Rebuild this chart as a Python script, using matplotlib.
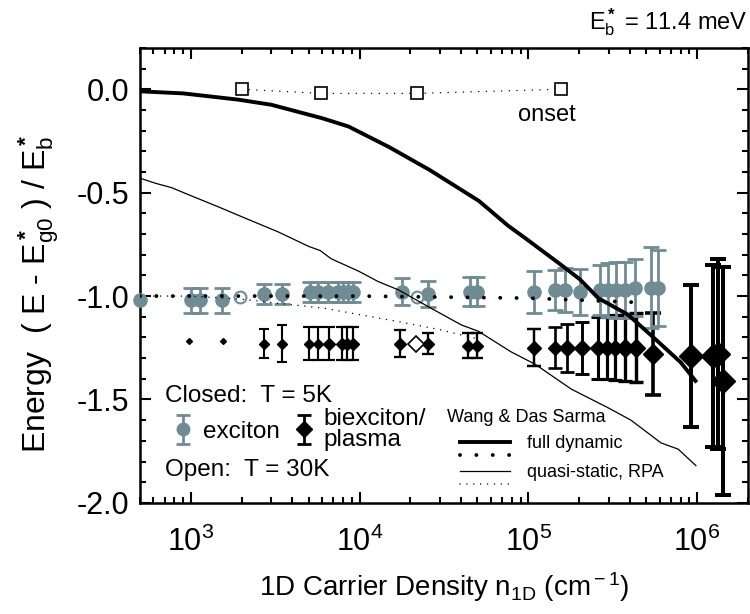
import numpy as np
import matplotlib
matplotlib.use('Agg')
import matplotlib.pyplot as plt
from matplotlib.lines import Line2D
from matplotlib.legend_handler import HandlerBase, HandlerErrorbar
from matplotlib.ticker import MultipleLocator, FormatStrFormatter

plt.rcParams['font.family'] = ['Liberation Sans', 'DejaVu Sans']
plt.rcParams['mathtext.fontset'] = 'custom'
plt.rcParams['mathtext.rm'] = 'Liberation Sans'
plt.rcParams['mathtext.it'] = 'Liberation Sans:italic'
plt.rcParams['mathtext.bf'] = 'Liberation Sans:bold'
plt.rcParams['axes.unicode_minus'] = False

GRAY = '#6f8c95'

# onset of the continuum (open squares)
onset_n = [2000, 5900, 21800, 157000]
onset_e = [0.0, -0.02, -0.02, 0.0]

# Wang & Das Sarma theory, full dynamic: band gap and exciton
full_n = [500, 900, 1900, 3000, 6000, 8600, 15000, 26000, 51000, 76000, 96000,
          157000, 203000, 260000, 390000, 535000, 800000, 980000]
full_gap = [-0.01, -0.02, -0.05, -0.075, -0.14, -0.18, -0.28, -0.39, -0.54, -0.66,
            -0.72, -0.85, -0.92, -1.01, -1.09, -1.19, -1.32, -1.41]
full_exc_n = [500, 1000, 10000, 100000, 430000]
full_exc = [-1.0, -1.0, -1.0, -1.01, -1.03]

# quasi-static RPA: band gap and exciton
qs_n = [500, 620, 770, 970, 1470, 1920, 3300, 5000, 5850, 6800, 9900, 12900, 17000,
        26700, 40200, 50600, 79200, 110000, 180000, 297000, 406000, 612000, 773000, 986000]
qs_gap = [-0.43, -0.455, -0.476, -0.51, -0.57, -0.61, -0.69, -0.76, -0.78, -0.82, -0.88,
          -0.93, -0.97, -1.06, -1.14, -1.17, -1.27, -1.33, -1.45, -1.54, -1.60, -1.71,
          -1.74, -1.82]
qs_exc_n = [500, 1000, 2000, 6300, 18700, 29000, 52000]
qs_exc = [-1.0, -1.0, -1.015, -1.06, -1.13, -1.16, -1.21]

# exciton, T = 5K (closed) and T = 30K (open)
exc_n = [500, 1000, 1140, 1530, 2700, 3470, 5100, 5700, 6500, 7500, 8000, 8600, 9200,
         17800, 25600, 45200, 49400, 108600, 144000, 165000, 202000, 265000, 297000,
         333000, 374000, 428000, 537000, 588000]
exc_e = [-1.02, -1.02, -1.02, -1.02, -0.99, -0.99, -0.98, -0.98, -0.98, -0.98, -0.98,
         -0.98, -0.98, -0.98, -0.99, -0.98, -0.98, -0.98, -0.97, -0.97, -0.98, -0.97,
         -0.97, -0.97, -0.97, -0.96, -0.96, -0.96]
exc_err = [0, 0.06, 0.06, 0.06, 0.05, 0.05, 0.05, 0.05, 0.05, 0.05, 0.05, 0.05, 0.05,
           0.065, 0.065, 0.07, 0.07, 0.1, 0.095, 0.105, 0.113, 0.12, 0.13, 0.136, 0.137,
           0.137, 0.196, 0.184]
exc30_n = [1970, 21800]
exc30_e = [-1.005, -1.005]

# biexciton / plasma, T = 5K (closed) and T = 30K (open)
bx_n = [973, 1550, 2700, 3470, 4990, 5710, 6560, 7850, 8410, 9210, 17400, 25600, 44200,
        49400, 108600, 144000, 169000, 207000, 260000, 291000, 326000, 374000, 437000,
        550000, 925000, 1245000, 1330000, 1425000]
bx_e = [-1.215, -1.215, -1.23, -1.23, -1.23, -1.23, -1.23, -1.23, -1.23, -1.23, -1.23,
        -1.23, -1.24, -1.24, -1.25, -1.25, -1.25, -1.25, -1.25, -1.25, -1.25, -1.25,
        -1.25, -1.28, -1.29, -1.29, -1.28, -1.41]
bx_err = [0, 0, 0.07, 0.09, 0.08, 0.08, 0.08, 0.08, 0.08, 0.08, 0.065, 0.05, 0.06, 0.06,
          0.09, 0.1, 0.117, 0.125, 0.15, 0.15, 0.158, 0.16, 0.167, 0.198, 0.345, 0.44,
          0.46, 0.55]
bx30_n = [21500]
bx30_e = [-1.23]


class StackedLines(HandlerBase):
    """two line samples stacked, label next to the upper one"""
    def create_artists(self, legend, orig_handle, xdescent, ydescent,
                       width, height, fontsize, trans):
        arts = []
        y0 = (height - ydescent) / 2
        for k, h in enumerate(orig_handle):
            y = y0 - k * 0.7 * fontsize
            ln = Line2D([-xdescent, -xdescent + width], [y, y])
            self.update_prop(ln, h, legend)
            ln.set_transform(trans)
            arts.append(ln)
        return arts


fig = plt.figure(figsize=(7.5, 6.14), dpi=100)
ax = fig.add_axes([0.1867, 0.181, 0.8103, 0.741])
ax.set_xscale('log')

# biexciton points, symbols grow with density
bx_n = np.array(bx_n)
logn = np.log10(bx_n)
w_px = np.interp(logn, [2.95, 3.25, 3.4, 4.5, 5.5, 6.0], [5, 5, 9, 10, 14, 21])
lw_px = np.interp(logn, [3.0, 5.0, 6.0], [2.0, 2.4, 4.0])
cap_px = np.interp(logn, [3.0, 5.0, 6.0], [10, 13, 16])
for n, e, s, w, l, c in zip(bx_n, bx_e, bx_err, w_px, lw_px, cap_px):
    if s > 0:
        ax.errorbar([n], [e], yerr=[s], fmt='none', ecolor='k', elinewidth=l / 1.389,
                    capsize=c / 2 / 1.389, capthick=l / 1.389, zorder=2)
    ax.plot([n], [e], 'D', color='k', ms=w / 1.389 / 1.2, zorder=2.5)
ax.plot(bx30_n, bx30_e, 'D', mfc='white', mec='k', mew=1.2, ms=8, zorder=2.5)

# exciton points
exc_n = np.array(exc_n)
exc_e = np.array(exc_e)
exc_err = np.array(exc_err)
m = exc_err > 0
ax.errorbar(exc_n[m], exc_e[m], yerr=exc_err[m], fmt='none', ecolor=GRAY,
            elinewidth=2, capsize=5.5, capthick=2, zorder=3)
ax.plot(exc_n, exc_e, 'o', color=GRAY, ms=9.5, clip_on=False, zorder=3.5)
ax.plot(exc30_n, exc30_e, 'o', mfc='white', mec=GRAY, mew=1.5, ms=8.5, zorder=3.5)

# theory curves
l_full, = ax.plot(full_n, full_gap, color='k', lw=2.8, zorder=5)
l_fexc, = ax.plot(full_exc_n, full_exc, color='k', lw=2.8, ls=(0, (0.01, 4.2)),
                  dash_capstyle='round', zorder=5)
l_qs, = ax.plot(qs_n, qs_gap, color='k', lw=0.9, zorder=5)
l_qexc, = ax.plot(qs_exc_n, qs_exc, color='k', lw=1.1, ls=(0, (0.01, 4.5)),
                  dash_capstyle='round', zorder=5)

ax.plot(onset_n, onset_e, color='k', lw=1.1, ls=(0, (0.01, 5)), dash_capstyle='round',
        marker='s', ms=8.5, mfc='white', mec='k', mew=1.2, zorder=6)
ax.text(0.669, 0.852, 'onset', transform=ax.transAxes, fontsize=17, ha='center', va='center')

ax.set_xlim(500, 2e6)
ax.set_ylim(-2.0, 0.2)
ax.yaxis.set_major_locator(MultipleLocator(0.5))
ax.yaxis.set_minor_locator(MultipleLocator(0.1))
ax.yaxis.set_major_formatter(FormatStrFormatter('%.1f'))
ax.tick_params(which='both', direction='in', top=True, right=True, width=1.5)
ax.tick_params(which='major', length=8, labelsize=22)
ax.tick_params(which='minor', length=4)
ax.tick_params(axis='x', which='major', pad=17)
ax.tick_params(axis='y', which='major', pad=8)
for sp in ax.spines.values():
    sp.set_linewidth(1.8)

ax.set_xlabel(r'1D Carrier Density n$_{\rm 1D}$ (cm$^{\rm -1}$)', fontsize=20, labelpad=9)
ax.set_ylabel(r'Energy  ( E - E$^{\bf *}_{\rm g0}$ ) / E$^{\bf *}_{\rm b}$', fontsize=23)
ax.yaxis.set_label_coords(-0.13, 0.46)
ax.text(1.0, 1.022, r'E$^{\bf *}_{\rm b}$ = 11.4 meV', transform=ax.transAxes,
        fontsize=17, ha='right', va='bottom')

ax.text(0.041, 0.235, 'Closed:  T = 5K', transform=ax.transAxes, fontsize=17.5, va='center')
ax.text(0.041, 0.073, 'Open:  T = 30K', transform=ax.transAxes, fontsize=17.5, va='center')

# symbol legend
h_exc = ax.errorbar([np.nan], [np.nan], yerr=[0.1], fmt='o', color=GRAY, ms=9,
                    elinewidth=2, capsize=5, capthick=2)
h_bx = ax.errorbar([np.nan], [np.nan], yerr=[0.1], fmt='D', color='k', ms=8,
                   elinewidth=2, capsize=5, capthick=2)
leg1 = ax.legend([h_exc, h_bx], ['exciton', 'biexciton/\nplasma'], ncol=2,
                 loc='upper left', bbox_to_anchor=(0.035, 0.236), frameon=False,
                 fontsize=17.5, handlelength=0.8, handletextpad=0.4, columnspacing=0.6,
                 borderpad=0, labelspacing=0.1,
                 handler_map={type(h_exc): HandlerErrorbar(yerr_size=0.6)})
for t in leg1.get_texts():
    t.set_linespacing(0.95)
ax.add_artist(leg1)

# theory legend
ax.text(0.505, 0.187, 'Wang & Das Sarma', transform=ax.transAxes, fontsize=13,
        va='center')
leg2 = ax.legend([(l_full, l_fexc), (l_qs, l_qexc)], ['full dynamic', 'quasi-static, RPA'],
                 handler_map={tuple: StackedLines()}, fontsize=13, loc='upper left',
                 bbox_to_anchor=(0.512, 0.168), frameon=False, handlelength=2.75,
                 handletextpad=0.95, labelspacing=0.65, borderpad=0)

fig.savefig('out.png', dpi=100)
